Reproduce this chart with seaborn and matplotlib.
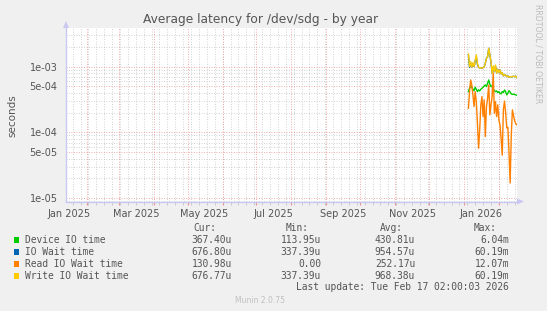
import numpy as np
import pandas as pd
import matplotlib
matplotlib.use("Agg")
import matplotlib.pyplot as plt
import matplotlib.dates as mdates
from matplotlib.patches import Polygon, Rectangle
import seaborn as sns

# ---------------- data ----------------
start_day = "2026-01-05"
device_io = [4.17e-4, 4.69e-4, 5.09e-4, 4.86e-4, 4.53e-4, 4.32e-4, 4.86e-4, 4.53e-4,
             4.17e-4, 4.43e-4, 4.27e-4, 4.53e-4, 4.69e-4, 4.86e-4, 5.09e-4, 5.27e-4,
             4.97e-4, 5.59e-4, 6.28e-4, 5.40e-4, 4.97e-4, 5.09e-4, 4.53e-4, 4.32e-4,
             4.17e-4, 4.27e-4, 4.03e-4, 4.17e-4, 3.94e-4, 3.85e-4, 4.17e-4, 4.03e-4,
             4.43e-4, 4.17e-4, 3.71e-4, 3.94e-4, 4.32e-4, 4.12e-4, 3.85e-4, 3.78e-4,
             3.82e-4, 3.78e-4, 3.71e-4, 3.674e-4]
write_wait = [1.56e-3, 1.00e-3, 1.19e-3, 0.978e-3, 1.15e-3, 1.00e-3, 1.235e-3, 1.51e-3,
              1.125e-3, 0.978e-3, 0.955e-3, 0.967e-3, 0.944e-3, 0.967e-3, 1.00e-3, 1.125e-3,
              1.34e-3, 1.42e-3, 1.90e-3, 1.51e-3, 1.19e-3, 0.793e-3, 1.025e-3, 0.84e-3,
              1.06e-3, 0.793e-3, 0.912e-3, 0.81e-3, 0.891e-3, 0.774e-3, 0.81e-3, 0.722e-3,
              0.757e-3, 0.738e-3, 0.706e-3, 0.722e-3, 0.69e-3, 0.706e-3, 0.698e-3, 0.706e-3,
              0.714e-3, 0.706e-3, 0.714e-3, 0.6768e-3]
io_wait = [1.50e-3, 0.97e-3, 1.15e-3, 0.978e-3, 1.12e-3, 1.00e-3, 1.235e-3, 1.40e-3,
           1.08e-3, 0.978e-3, 0.955e-3, 0.967e-3, 0.944e-3, 0.967e-3, 1.00e-3, 1.125e-3,
           1.34e-3, 1.42e-3, 1.90e-3, 1.51e-3, 1.15e-3, 0.80e-3, 0.98e-3, 0.84e-3,
           1.02e-3, 0.80e-3, 0.912e-3, 0.81e-3, 0.891e-3, 0.774e-3, 0.81e-3, 0.722e-3,
           0.757e-3, 0.738e-3, 0.706e-3, 0.722e-3, 0.69e-3, 0.706e-3, 0.698e-3, 0.706e-3,
           0.714e-3, 0.706e-3, 0.714e-3, 0.6768e-3]
read_wait = [2.33e-4, 4.17e-4, 6.28e-4, 5.27e-4, 3.71e-4, 2.47e-4, 4.17e-4, 2.94e-4,
             1.38e-4, 5.74e-5, 1.09e-4, 2.62e-4, 3.50e-4, 1.74e-4, 3.12e-4, 8.65e-5,
             2.47e-4, 3.30e-4, 5.27e-4, 1.85e-4, 2.62e-4, 3.50e-4, 8.0e-4, 1.95e-4,
             2.94e-4, 1.74e-4, 2.62e-4, 1.55e-4, 1.30e-4, 8.0e-5, 4.5e-5, 2.2e-4,
             3.0e-4, 2.0e-4, 1.17e-4, 1.2e-4, 5.0e-5, 1.7e-5, 9.0e-5, 2.2e-4,
             1.8e-4, 1.5e-4, 1.35e-4, 1.31e-4]

series_names = ["Device IO time", "IO Wait time", "Read IO Wait time", "Write IO Wait time"]
series_colors = ["#00CC00", "#0066B3", "#FF8000", "#FFCC00"]
cur_vals = ["367.40u", "676.80u", "130.98u", "676.77u"]
min_vals = ["113.95u", "337.39u", "0.00", "337.39u"]
avg_vals = ["430.81u", "954.57u", "252.17u", "968.38u"]
max_vals = ["6.04m", "60.19m", "12.07m", "60.19m"]

ytick_vals = [1e-5, 5e-5, 1e-4, 5e-4, 1e-3]
ytick_labels = ["1e-05", "5e-05", "1e-04", "5e-04", "1e-03"]
xlabel_months = ["2025-01", "2025-03", "2025-05", "2025-07", "2025-09", "2025-11", "2026-01"]
xlabel_texts = ["Jan 2025", "Mar 2025", "May 2025", "Jul 2025", "Sep 2025", "Nov 2025", "Jan 2026"]

# ---------------- frame ----------------
dates = pd.date_range(start_day, periods=len(device_io), freq="D")
frames = []
for name, vals in zip(series_names, [device_io, io_wait, read_wait, write_wait]):
    frames.append(pd.DataFrame({"date": dates, "value": vals, "series": name}))
df = pd.concat(frames, ignore_index=True)

W, H = 547, 311
BG = "#F0F0F0"
fig = plt.figure(figsize=(W / 100, H / 100), dpi=100, facecolor=BG)

L, R, T, B = 66, 517, 28, 201.5
ax = fig.add_axes([L / W, 1 - B / H, (R - L) / W, (B - T) / H])
ax.set_facecolor("white")

palette = dict(zip(series_names, series_colors))
sns.lineplot(data=df, x="date", y="value", hue="series", hue_order=series_names,
             palette=palette, estimator=None, legend=False, linewidth=1.0, ax=ax)

x_end = pd.Timestamp("2026-02-17 02:00")
x_start = x_end - pd.Timedelta(days=400)
ax.set_xlim(x_start, x_end)
ax.set_yscale("log")
ax.set_ylim(8.9e-6, 3.87e-3)

# grids
GRID_MINOR = "#C4C4C4"
GRID_MAJOR = "#EE9090"
month_starts = pd.date_range("2025-02-01", "2026-02-01", freq="MS")
weeks = pd.date_range("2025-01-19", "2026-02-17", freq="7D")
for wk in weeks:
    ax.axvline(wk, color=GRID_MINOR, lw=0.6, ls=(0, (1, 2)), zorder=0)
for m in month_starts:
    ax.axvline(m, color=GRID_MAJOR, lw=0.6, ls=(0, (1, 2)), zorder=0.5)

minor_y = []
for dec in [1e-6, 1e-5, 1e-4, 1e-3]:
    for k in range(2, 10):
        v = k * dec
        if 8.9e-6 < v < 3.87e-3 and k != 5:
            minor_y.append(v)
for v in minor_y:
    ax.axhline(v, color=GRID_MINOR, lw=0.6, ls=(0, (1, 2)), zorder=0)
for v in ytick_vals:
    ax.axhline(v, color=GRID_MAJOR, lw=0.6, ls=(0, (1, 2)), zorder=0.5)

ax.set_yticks(ytick_vals)
ax.set_yticklabels(ytick_labels)
ax.yaxis.set_minor_locator(matplotlib.ticker.NullLocator())
ax.tick_params(axis="y", length=0, labelsize=7, labelcolor="#555555", pad=6)

ax.set_xticks(month_starts)
ax.set_xticklabels([])
ax.set_xticks(weeks, minor=True)
ax.tick_params(axis="x", which="major", length=2, color=GRID_MAJOR, direction="out")
ax.tick_params(axis="x", which="minor", length=2, color=GRID_MINOR, direction="out")
ax.set_xlabel("")
ax.set_ylabel("")

for sp in ["top", "right"]:
    ax.spines[sp].set_visible(False)
AXC = "#C8C8F0"
for sp in ["left", "bottom"]:
    ax.spines[sp].set_color(AXC)
    ax.spines[sp].set_linewidth(1.0)

# x labels at mid-month
for m, t in zip(xlabel_months, xlabel_texts):
    pos = pd.Timestamp(m + "-16")
    ax.text(pos, -0.045, t, transform=ax.get_xaxis_transform(), ha="center", va="top",
            fontsize=7, color="#555555")

# axis arrows
def fx(px):
    return px / W

def fy(py):
    return 1 - py / H

fig.add_artist(Polygon([(fx(63), fy(28)), (fx(69), fy(28)), (fx(66), fy(21))],
                       closed=True, transform=fig.transFigure, color=AXC, lw=0))
fig.add_artist(Polygon([(fx(517), fy(198.5)), (fx(517), fy(204.5)), (fx(524), fy(201.5))],
                       closed=True, transform=fig.transFigure, color=AXC, lw=0))

# title & labels
fig.text(fx(261), fy(19), "Average latency for /dev/sdg - by year", ha="center", va="center",
         fontsize=8.8, color="#555555")
fig.text(fx(12), fy(116), "seconds", rotation=90, ha="center", va="center",
         fontsize=7.5, color="#555555")
fig.text(fx(538), fy(4), "RRDTOOL / TOBI OETIKER", rotation=270, ha="center", va="top",
         fontsize=5.6, color="#BBBBBB")

# legend
MONO = "DejaVu Sans Mono"
LFS = 6.9
TXT = "#555555"
fig.text(fx(216), fy(228), "Cur:", ha="right", va="center", family=MONO, fontsize=LFS, color=TXT)
fig.text(fx(309), fy(228), "Min:", ha="right", va="center", family=MONO, fontsize=LFS, color=TXT)
fig.text(fx(403), fy(228), "Avg:", ha="right", va="center", family=MONO, fontsize=LFS, color=TXT)
fig.text(fx(497), fy(228), "Max:", ha="right", va="center", family=MONO, fontsize=LFS, color=TXT)
rows_y = [240, 252, 264, 276]
for i, (name, col) in enumerate(zip(series_names, series_colors)):
    y = rows_y[i]
    fig.add_artist(Rectangle((fx(13.5), fy(y + 2.8)), 5.5 / W, 5.5 / H,
                             transform=fig.transFigure, color=col, lw=0))
    fig.text(fx(25), fy(y), name, ha="left", va="center", family=MONO, fontsize=LFS, color=TXT)
    fig.text(fx(232), fy(y), cur_vals[i], ha="right", va="center", family=MONO, fontsize=LFS, color=TXT)
    fig.text(fx(321), fy(y), min_vals[i], ha="right", va="center", family=MONO, fontsize=LFS, color=TXT)
    fig.text(fx(415), fy(y), avg_vals[i], ha="right", va="center", family=MONO, fontsize=LFS, color=TXT)
    fig.text(fx(509), fy(y), max_vals[i], ha="right", va="center", family=MONO, fontsize=LFS, color=TXT)
fig.text(fx(509), fy(287.5), "Last update: Tue Feb 17 02:00:03 2026", ha="right", va="center",
         family=MONO, fontsize=LFS, color=TXT)
fig.text(fx(260), fy(300.5), "Munin 2.0.75", ha="center", va="center", fontsize=5.5, color="#C0C0C0")

fig.savefig("out.png", dpi=100, facecolor=BG)
